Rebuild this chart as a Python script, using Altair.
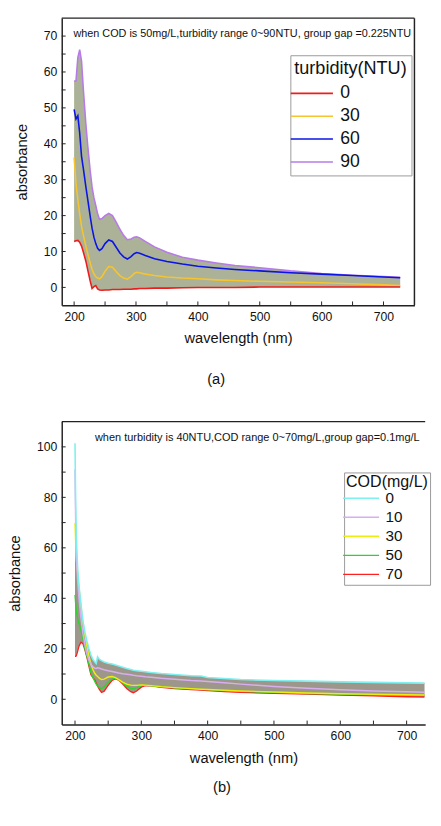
import altair as alt
import pandas as pd

FONT = "Liberation Sans"

# ---------------- Panel (a): COD 50 mg/L, turbidity 0~90 NTU ----------------
wl_a = [200, 203, 206, 209, 212, 215, 219, 222, 226, 229, 232, 235, 238, 241, 245, 250, 256, 262, 268, 274,
        280, 286, 292, 297, 301, 306, 315, 330, 350, 375, 400, 430, 460, 500, 550, 600, 650, 700, 727]
a_90 = [57.5, 57.5, 64.0, 66.2, 63.0, 55.0, 45.5, 39.5, 32.5, 28.0, 25.0, 22.8, 20.5, 19.0, 19.2, 20.0, 20.6, 20.0, 18.2, 16.2,
        14.5, 13.3, 13.5, 14.0, 14.1, 13.8, 12.8, 11.3, 9.8, 8.4, 7.6, 6.8, 6.1, 5.5, 4.6, 3.9, 3.4, 3.0, 2.8]
a_60 = [49.6, 46.9, 47.8, 43.0, 36.5, 33.0, 28.0, 24.5, 19.8, 16.5, 14.0, 12.2, 10.9, 10.3, 10.8, 12.2, 13.2, 12.8, 11.2, 9.6,
        8.5, 7.9, 8.6, 9.4, 9.7, 9.5, 8.9, 8.0, 7.2, 6.5, 5.9, 5.4, 5.0, 4.6, 4.1, 3.7, 3.3, 2.9, 2.7]
a_30 = [36.2, 29.0, 24.5, 20.5, 17.0, 14.5, 11.5, 9.4, 6.8, 5.0, 3.8, 3.0, 2.6, 2.4, 3.0, 4.5, 5.8, 5.6, 4.4, 3.3,
        2.6, 2.3, 3.0, 3.9, 4.2, 4.1, 3.7, 3.3, 2.9, 2.6, 2.4, 2.1, 1.9, 1.7, 1.5, 1.3, 1.0, 0.7, 0.5]
a_0 = [12.8, 13.0, 13.1, 12.6, 11.5, 9.8, 7.3, 4.9, 1.8, -0.3, 0.2, 0.5, -0.4, -0.7, -0.8, -0.7, -0.7, -0.6, -0.6, -0.6,
       -0.5, -0.5, -0.5, -0.4, -0.4, -0.3, -0.3, -0.2, -0.2, -0.1, 0.0, 0.0, 0.0, 0.1, 0.1, 0.1, 0.1, 0.1, 0.1]
turb_labels = ["0", "30", "60", "90"]
turb_colors = ["#ee1c1c", "#f5c431", "#0a14e6", "#b77be8"]
turb_widths = [1.6, 1.6, 1.8, 2.6]
note_a = "when COD is 50mg/L,turbidity range 0~90NTU, group gap =0.225NTU"

# ---------------- Panel (b): turbidity 40 NTU, COD 0~70 mg/L ----------------
wl_b = [200, 201, 202, 204, 206, 209, 212, 215, 218, 221, 224, 227, 230, 232, 234, 237, 240, 244, 250, 256,
        261, 266, 272, 278, 284, 288, 293, 300, 306, 315, 330, 350, 375, 390, 400, 425, 450, 500, 550, 600,
        650, 700, 727]
b_0 = [101.4, 78.0, 64.0, 52.0, 45.0, 37.5, 31.0, 26.5, 23.0, 20.0, 17.5, 15.8, 14.8, 14.2, 16.8, 15.8, 15.3, 14.8, 14.3, 14.0,
       13.6, 13.2, 12.7, 12.2, 11.8, 11.5, 11.3, 11.1, 10.9, 10.6, 10.2, 9.8, 9.3, 9.2, 8.6, 8.2, 7.8, 7.4, 7.2, 6.9,
       6.7, 6.5, 6.4]
b_10 = [91.0, 70.0, 57.0, 47.0, 40.0, 32.0, 26.0, 21.5, 18.0, 15.5, 13.8, 12.8, 12.3, 12.2, 12.5, 12.3, 12.0, 11.7, 11.3, 11.0,
        10.7, 10.4, 10.1, 9.9, 9.7, 9.5, 9.3, 9.1, 8.9, 8.7, 8.3, 7.9, 7.4, 7.2, 7.0, 6.5, 6.0, 5.1, 4.4, 3.8,
        3.3, 3.0, 2.8]
b_30 = [69.8, 62.0, 56.0, 50.0, 44.5, 37.0, 30.5, 25.5, 21.0, 17.0, 14.0, 11.8, 10.2, 9.5, 9.0, 8.3, 7.8, 8.0, 8.8, 9.0,
        8.6, 7.8, 6.8, 6.0, 5.6, 5.5, 5.5, 5.7, 5.6, 5.4, 5.0, 4.6, 4.2, 4.0, 3.9, 3.6, 3.3, 2.9, 2.5, 2.2,
        2.0, 1.8, 1.7]
b_50 = [41.3, 38.0, 35.0, 32.0, 30.0, 27.5, 24.0, 20.0, 17.0, 13.8, 10.6, 8.6, 7.0, 6.0, 5.3, 4.5, 4.3, 5.0, 6.8, 8.0,
        8.3, 7.8, 6.5, 5.2, 4.3, 4.1, 4.6, 5.4, 5.6, 5.3, 4.9, 4.5, 4.1, 3.9, 3.8, 3.4, 3.1, 2.7, 2.3, 2.1,
        1.9, 1.7, 1.6]
b_70 = [17.0, 17.0, 17.2, 19.0, 21.0, 22.6, 22.0, 19.5, 16.5, 13.0, 9.7, 8.6, 7.6, 6.4, 5.2, 3.8, 2.7, 3.2, 5.5, 7.5,
        8.1, 7.6, 6.0, 4.3, 3.0, 2.6, 3.3, 4.8, 5.4, 5.3, 4.7, 4.2, 3.8, 3.6, 3.4, 3.0, 2.7, 2.3, 2.0, 1.6,
        1.3, 1.0, 0.9]
cod_labels = ["0", "10", "30", "50", "70"]
cod_colors = ["#7ff0f0", "#d9aef0", "#eded10", "#2bd62b", "#ff2020"]
cod_widths = [1.6, 1.3, 1.3, 1.6, 2.6]
note_b = "when turbidity is 40NTU,COD range 0~70mg/L,group gap=0.1mg/L"

# ticks
x_major = [200, 300, 400, 500, 600, 700]
x_minor = [250, 350, 450, 550, 650]
ya_ticks = [0, 5, 10, 15, 20, 25, 30, 35, 40, 45, 50, 55, 60, 65, 70]
ya_major = [0, 10, 20, 30, 40, 50, 60, 70]
yb_ticks = [0, 10, 20, 30, 40, 50, 60, 70, 80, 90, 100]
yb_major = [0, 20, 40, 60, 80, 100]

W_A, H_A = 361, 294
W_B, H_B = 372, 310
BAND_A = "#abb297"
BAND_B = "#9c978a"


def long_df(wl, series, labels, field):
    rows = []
    # draw last label first (underneath)
    for lab, vals in reversed(list(zip(labels, series))):
        for w, v in zip(wl, vals):
            rows.append({"wl": w, "absorb": v, field: lab})
    return pd.DataFrame(rows)


def panel(wl, lo, hi, series, labels, colors, widths, field, xdom, ydom, W, H,
          ymajor, yticks, note, note_x, note_y, note_size, leg, tag, tag_x, tag_y,
          right_border, band_color):
    xs = alt.Scale(domain=xdom, nice=False, zero=False)
    ys = alt.Scale(domain=ydom, nice=False, zero=False)
    ax = alt.Axis(values=x_major, title="wavelength (nm)")
    ay = alt.Axis(values=ymajor, title="absorbance")
    band = alt.Chart(pd.DataFrame({"wl": wl, "lo": lo, "hi": hi})).mark_area(
        color=band_color, opacity=1, clip=True
    ).encode(
        x=alt.X("wl:Q", scale=xs, axis=ax),
        y=alt.Y("lo:Q", scale=ys, axis=ay),
        y2="hi:Q",
    )
    lines = alt.Chart(long_df(wl, series, labels, field)).mark_line(clip=True).encode(
        x=alt.X("wl:Q", scale=xs, axis=ax),
        y=alt.Y("absorb:Q", scale=ys, axis=ay),
        color=alt.Color(f"{field}:N", scale=alt.Scale(domain=labels, range=colors), legend=leg),
        strokeWidth=alt.StrokeWidth(f"{field}:N", scale=alt.Scale(domain=labels, range=widths), legend=None),
    )
    xt = alt.Chart(pd.DataFrame({"t": x_major + x_minor})).mark_rule(color="#222", strokeWidth=1).encode(
        x=alt.X("t:Q", scale=xs, axis=ax), y=alt.value(H), y2=alt.value(H - 4))
    yt = alt.Chart(pd.DataFrame({"t": yticks})).mark_rule(color="#222", strokeWidth=1).encode(
        y=alt.Y("t:Q", scale=ys, axis=ay), x=alt.value(0), x2=alt.value(4))
    one = pd.DataFrame({"k": [0]})
    top = alt.Chart(one).mark_rule(color="#222", strokeWidth=1.5).encode(
        x=alt.value(0), x2=alt.value(W), y=alt.value(0))
    layers = [band, lines, xt, yt, top]
    if right_border:
        layers.append(alt.Chart(one).mark_rule(color="#222", strokeWidth=1.5).encode(
            x=alt.value(W), y=alt.value(0), y2=alt.value(H)))
    txt = alt.Chart(one).mark_text(align="left", baseline="middle", font=FONT, fontSize=note_size,
                                   color="#111").encode(
        x=alt.value(note_x), y=alt.value(note_y), text=alt.value(note))
    lab = alt.Chart(one).mark_text(align="center", baseline="middle", font=FONT, fontSize=15,
                                   color="#111").encode(
        x=alt.value(tag_x), y=alt.value(tag_y), text=alt.value(tag))
    layers += [txt, lab]
    return alt.layer(*layers).properties(width=W, height=H)


leg_a = alt.Legend(title="turbidity(NTU)", orient="none", legendX=234, legendY=38,
                   symbolType="M-2.4,0H2.4", symbolSize=324, symbolStrokeWidth=2,
                   symbolOffset=8, labelOffset=19,
                   labelFont=FONT, titleFont=FONT, labelFontSize=18, titleFontSize=18.5,
                   titleFontWeight="normal", labelColor="#111", titleColor="#111",
                   strokeColor="#9a9a9a", fillColor="white", padding=4, rowPadding=4.4,
                   titlePadding=6.5)
leg_b = alt.Legend(title="COD(mg/L)", orient="none", legendX=289, legendY=52,
                   symbolType="M-2.3,0H2.3", symbolSize=256, symbolStrokeWidth=2,
                   symbolOffset=6.4, labelOffset=16,
                   labelFont=FONT, titleFont=FONT, labelFontSize=15.6, titleFontSize=16.4,
                   titleFontWeight="normal", labelColor="#111", titleColor="#111",
                   strokeColor="#9a9a9a", fillColor="white", padding=2, rowPadding=1.5,
                   titlePadding=-1)

pa = panel(wl_a, a_0, a_90, [a_0, a_30, a_60, a_90], turb_labels, turb_colors, turb_widths, "turb",
           [180, 750], [-5, 75], W_A, H_A, ya_major, ya_ticks, note_a, 12, 16.5, 11.1, leg_a,
           "(a)", 158, H_A + 75, True, BAND_A)
pb = panel(wl_b, b_70, b_0, [b_0, b_10, b_30, b_50, b_70], cod_labels, cod_colors, cod_widths, "cod",
           [180, 728], [-10, 110], W_B, H_B, yb_major, yb_ticks, note_b, 34, 17, 11.2, leg_b,
           "(b)", 164, H_B + 64, False, BAND_B)

chart = alt.vconcat(pa, pb, spacing=35).resolve_scale(
    x="independent", y="independent", color="independent", strokeWidth="independent"
).properties(
    padding={"left": 0, "top": 0, "right": 2, "bottom": 0}
).configure_view(stroke=None).configure_axis(
    grid=False, ticks=False, tickSize=0, domainColor="#222", domainWidth=1.5,
    labelFont=FONT, labelFontSize=12.5, labelColor="#111", labelPadding=5,
    titleFont=FONT, titleFontSize=15, titleFontWeight="normal", titleColor="#111",
).configure_axisX(titlePadding=9).configure_axisY(titlePadding=14)

chart.save("out.html", embed_options={"renderer": "svg", "actions": False})
